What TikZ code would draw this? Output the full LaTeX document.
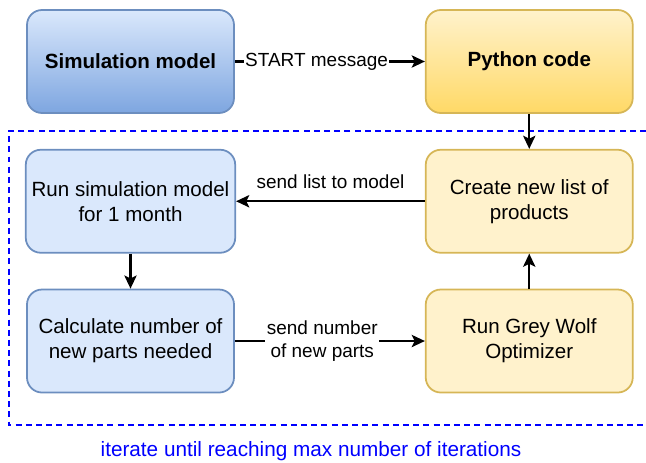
\documentclass[tikz,border=0pt]{standalone}
\usepackage{fontspec}
\setmainfont{Liberation Sans}
\usetikzlibrary{arrows.meta}
\usetikzlibrary{positioning}

\definecolor{bluefill}{HTML}{DAE8FC}
\definecolor{bluedark}{HTML}{7EA6E0}
\definecolor{blueline}{HTML}{6C8EBF}
\definecolor{yellowfill}{HTML}{FFF2CC}
\definecolor{yellowdark}{HTML}{FFD966}
\definecolor{yellowline}{HTML}{D6B656}

\begin{document}
\begin{tikzpicture}[
    box/.style={rectangle, rounded corners=0.3cm, line width=1pt,
      minimum width=4.14cm, minimum height=2.06cm, align=center,
      font=\fontsize{11.7}{14.2}\selectfont},
    simbox/.style={box, draw=blueline, fill=bluefill},
    pybox/.style={box, draw=yellowline, fill=yellowfill},
    flow/.style={line width=1.2pt, -{Stealth[length=7.5pt,width=7pt,inset=1.7pt]}},
    msg/.style={font=\fontsize{10.8}{13}\selectfont, align=center}
  ]
  \useasboundingbox (0,0) rectangle (12.92,-9.26);

  \node[simbox, top color=bluefill, bottom color=bluedark] (sim) at (2.61,-1.23)
    {\textbf{Simulation model}};
  \node[pybox, top color=yellowfill, bottom color=yellowdark, right=3.8cm of sim] (python)
    {\textbf{Python code}};
  \node[simbox, below=0.7cm of sim] (run) {Run simulation model\\for 1 month};
  \node[simbox, below=0.7cm of run] (calc) {Calculate number of\\new parts needed};
  \node[pybox, below=0.7cm of python] (create) {Create new list of\\products};
  \node[pybox, below=0.7cm of create] (gwo) {Run Grey Wolf\\Optimizer};

  % loop frame, open on the right
  \draw[blue, line width=1.1pt, dash pattern=on 3.4pt off 2.4pt]
    (12.92,-2.62) -- (0.18,-2.62) -- (0.18,-8.5) -- (12.92,-8.5);
  \node[blue, font=\fontsize{11.8}{14}\selectfont] (iter) at (6.22,-9.02)
    {iterate until reaching max number of iterations};

  \draw[flow] (sim) -- node[msg, pos=0.43, fill=white, inner sep=0.6pt] {START message} (python);
  \draw[flow] (python) -- (create);
  \draw[flow] (create) -- node[msg, above=3pt] {send list to model} (run);
  \draw[flow] (run) -- (calc);
  \draw[flow] (calc) -- node[msg, pos=0.46, fill=white, inner sep=1pt] {send number\\of new parts} (gwo);
  \draw[flow] (gwo) -- (create);
\end{tikzpicture}
\end{document}
